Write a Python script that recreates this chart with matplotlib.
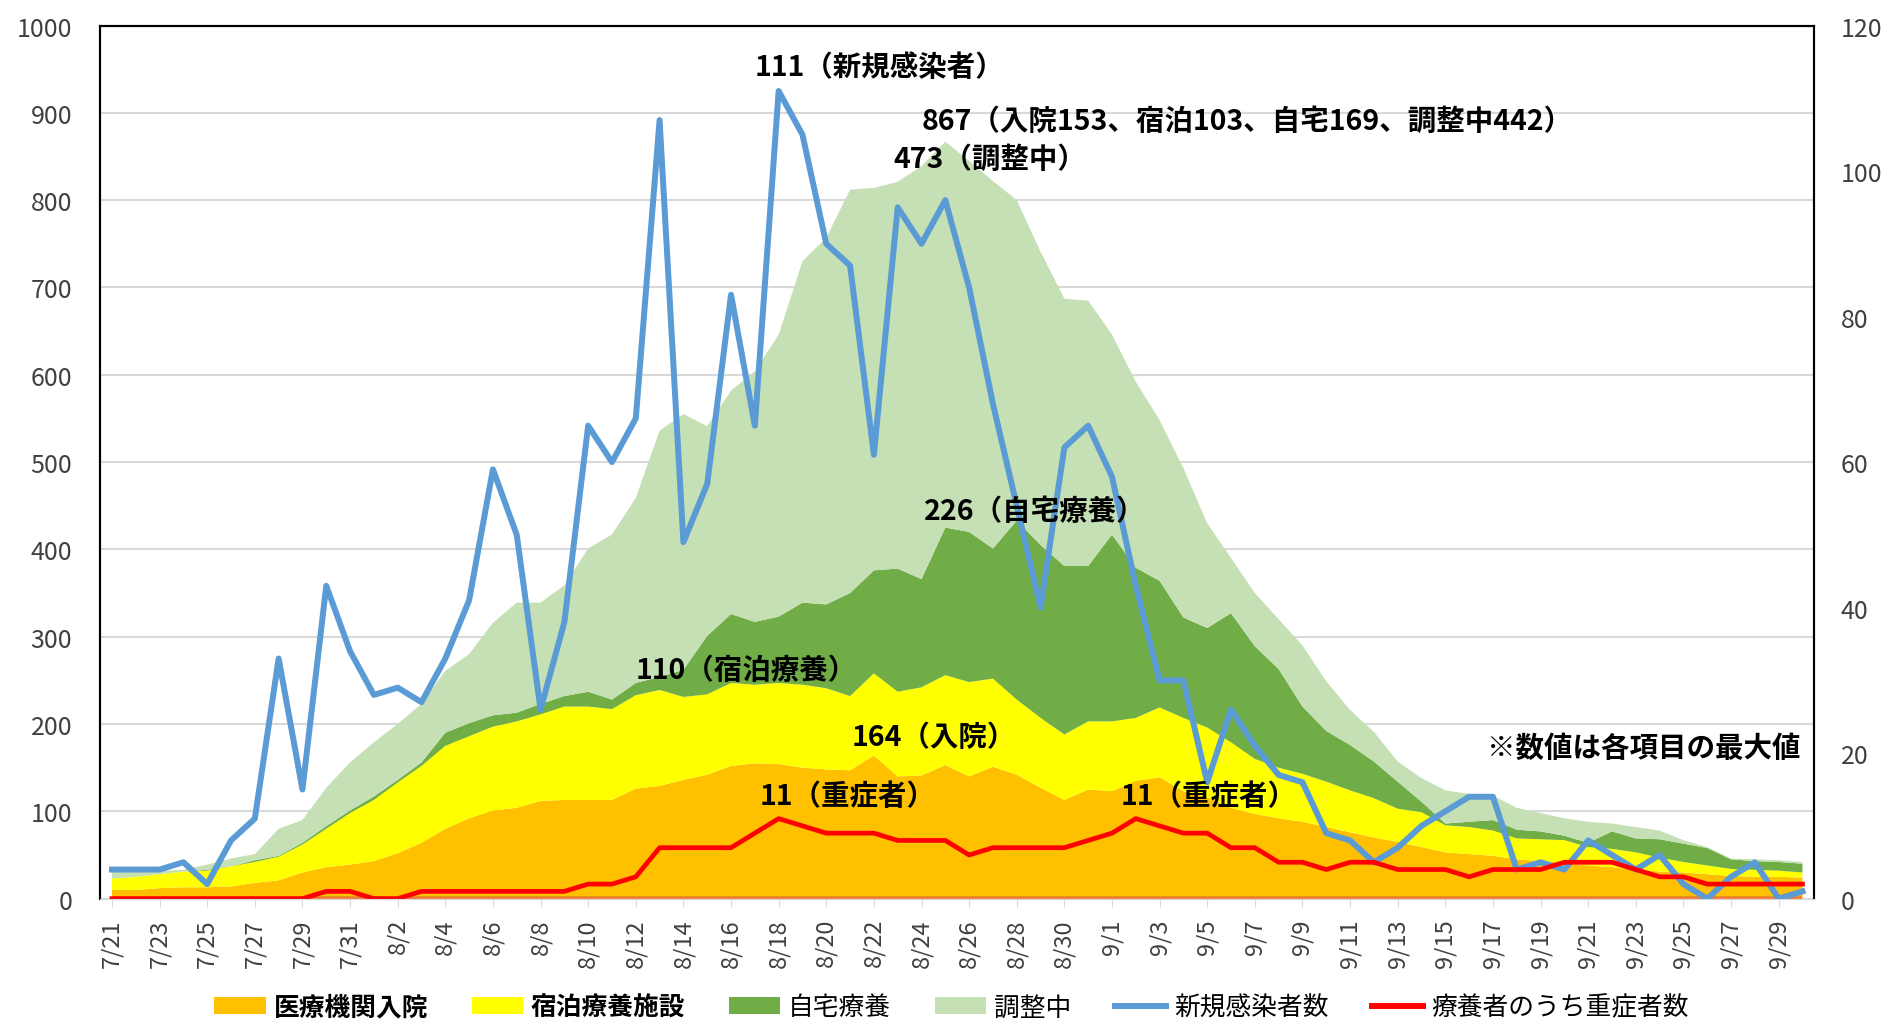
import numpy as np
import pandas as pd
import matplotlib
matplotlib.use("Agg")
import matplotlib.pyplot as plt
from matplotlib.patches import Patch
from matplotlib.lines import Line2D

plt.rcParams['font.family'] = ['Noto Sans CJK JP', 'DejaVu Sans']

# dates 7/21 - 9/30
dates = pd.date_range("2020-07-21", "2020-09-30")
date_labels = [f"{d.month}/{d.day}" for d in dates]

# 医療機関入院
hospital = [10, 10, 12, 13, 13, 14, 18, 21, 30, 36, 39, 43, 52, 64, 80, 92, 101, 104,
            112, 113, 113, 113, 126, 129, 136, 142, 152, 155, 154, 150, 148, 147, 164, 140,
            141, 153, 140, 151, 142, 127, 113, 125, 123, 135, 139, 123, 116, 104, 97, 92,
            88, 82, 76, 70, 65, 59, 53, 51, 49, 45, 43, 41, 38, 36, 33, 31, 30, 28, 26, 25,
            25, 24]
# 宿泊療養施設
hotel = [13, 15, 16, 18, 19, 23, 24, 27, 32, 44, 59, 70, 81, 88, 95, 94, 96, 99, 99,
         107, 107, 104, 107, 110, 95, 92, 95, 90, 93, 95, 93, 85, 94, 97, 101, 103, 108,
         101, 86, 80, 75, 78, 80, 72, 80, 84, 80, 75, 63, 58, 55, 52, 48, 45, 38, 40, 31,
         31, 29, 24, 25, 26, 21, 21, 20, 16, 12, 10, 8, 8, 7, 6]
# 自宅療養
home = [0, 0, 0, 0, 1, 0, 2, 1, 2, 3, 3, 4, 3, 4, 15, 15, 13, 10, 12, 12, 17, 11, 14,
        15, 31, 67, 79, 72, 76, 94, 96, 118, 118, 141, 124, 169, 172, 149, 205, 198, 193,
        178, 214, 172, 145, 115, 114, 148, 129, 113, 77, 58, 52, 42, 31, 12, 2, 6, 12, 10,
        9, 5, 5, 20, 16, 21, 21, 20, 11, 10, 10, 10]
# 調整中
adjusting = [8, 6, 4, 2, 6, 9, 7, 31, 26, 44, 55, 62, 64, 67, 71, 79, 106, 126, 116, 127,
             164, 189, 212, 282, 293, 240, 256, 287, 323, 391, 420, 462, 438, 443, 473, 442,
             425, 421, 367, 336, 306, 304, 229, 213, 184, 171, 120, 63, 61, 57, 70, 57, 40,
             34, 23, 27, 38, 32, 28, 25, 21, 20, 24, 9, 13, 10, 4, 1, 1, 2, 2, 2]
# 新規感染者数 (right axis)
new_cases = [4, 4, 4, 5, 2, 8, 11, 33, 15, 43, 34, 28, 29, 27, 33, 41, 59, 50, 26, 38,
             65, 60, 66, 107, 49, 57, 83, 65, 111, 105, 90, 87, 61, 95, 90, 96, 84, 68, 54,
             40, 62, 65, 58, 43, 30, 30, 16, 26, 21, 17, 16, 9, 8, 5, 7, 10, 12, 14, 14, 4,
             5, 4, 8, 6, 4, 6, 2, 0, 3, 5, 0, 1]
# 療養者のうち重症者数 (right axis)
severe = [0, 0, 0, 0, 0, 0, 0, 0, 0, 1, 1, 0, 0, 1, 1, 1, 1, 1, 1, 1, 2, 2, 3, 7, 7, 7,
          7, 9, 11, 10, 9, 9, 9, 8, 8, 8, 6, 7, 7, 7, 7, 8, 9, 11, 10, 9, 9, 7, 7, 5, 5,
          4, 5, 5, 4, 4, 4, 3, 4, 4, 4, 5, 5, 5, 4, 3, 3, 2, 2, 2, 2, 2]

labels = ['医療機関入院', '宿泊療養施設', '自宅療養', '調整中', '新規感染者数', '療養者のうち重症者数']
colors = ['#FFC000', '#FFFF00', '#70AD47', '#C5E0B4', '#5B9BD5', '#FF0000']

x = np.arange(len(dates))

fig = plt.figure(figsize=(18.88, 10.2), dpi=100)
ax = fig.add_axes([0.053, 0.118, 0.908, 0.856])
ax2 = ax.twinx()

ax.stackplot(x, hospital, hotel, home, adjusting, colors=colors[:4], linewidth=0)
ax.plot(x, np.zeros(len(x)), color='#ED7D31', lw=4, solid_capstyle='butt')

ax2.plot(x, new_cases, color=colors[4], lw=4.3)
ax2.plot(x, severe, color=colors[5], lw=3.4)

ax.set_xlim(-0.5, len(x) - 0.5)
ax.set_ylim(0, 1000)
ax2.set_ylim(0, 120)
ax.set_yticks(np.arange(0, 1001, 100))
ax2.set_yticks(np.arange(0, 121, 20))
ax.yaxis.grid(True, color='#D9D9D9', lw=1.5)
ax.set_axisbelow(True)

ax.set_xticks(x[::2])
ax.set_xticklabels(date_labels[::2], rotation=90, fontsize=17, color='#404040')
ax.tick_params(axis='x', length=6, color='#D9D9D9', pad=8)
ax.tick_params(axis='y', length=0, labelsize=18, labelcolor='#404040', pad=20)
ax2.tick_params(axis='y', length=0, labelsize=18, labelcolor='#404040', pad=19)

for a in (ax, ax2):
    for s in ['left', 'right', 'top']:
        a.spines[s].set_color('black')
        a.spines[s].set_linewidth(1.5)
    a.spines['bottom'].set_color('#D9D9D9')

# annotations (max of each item)
tk = dict(fontsize=20.5, fontweight='bold', color='black', transform=ax.transData,
          zorder=10, ha='left', va='center')
ax2.text(27.0, 953, '111（新規感染者）', **tk)
ax2.text(34.0, 891, '867（入院153、宿泊103、自宅169、調整中442）', **tk)
ax2.text(32.8, 847, '473（調整中）', **tk)
ax2.text(34.1, 444, '226（自宅療養）', **tk)
ax2.text(22.0, 262, '110（宿泊療養）', **tk)
ax2.text(31.05, 185, '164（入院）', **tk)
ax2.text(27.2, 118, '11（重症者）', **tk)
ax2.text(42.35, 117, '11（重症者）', **tk)
ax2.text(70.9, 173, '※数値は各項目の最大値', **{**tk, 'ha': 'right'})

handles = [Patch(facecolor=c, edgecolor='none') for c in colors[:4]]
handles += [Line2D([0], [0], color=colors[4], lw=4.3), Line2D([0], [0], color=colors[5], lw=4.3)]
leg = fig.legend(handles, labels, loc='lower center', bbox_to_anchor=(0.504, -0.024), ncol=6,
                 frameon=False, fontsize=18.5, handlelength=2.0, handleheight=0.65,
                 columnspacing=1.7, handletextpad=0.3)
for t in leg.get_texts()[:2]:
    t.set_fontweight('bold')

fig.savefig('out.png', dpi=100)
